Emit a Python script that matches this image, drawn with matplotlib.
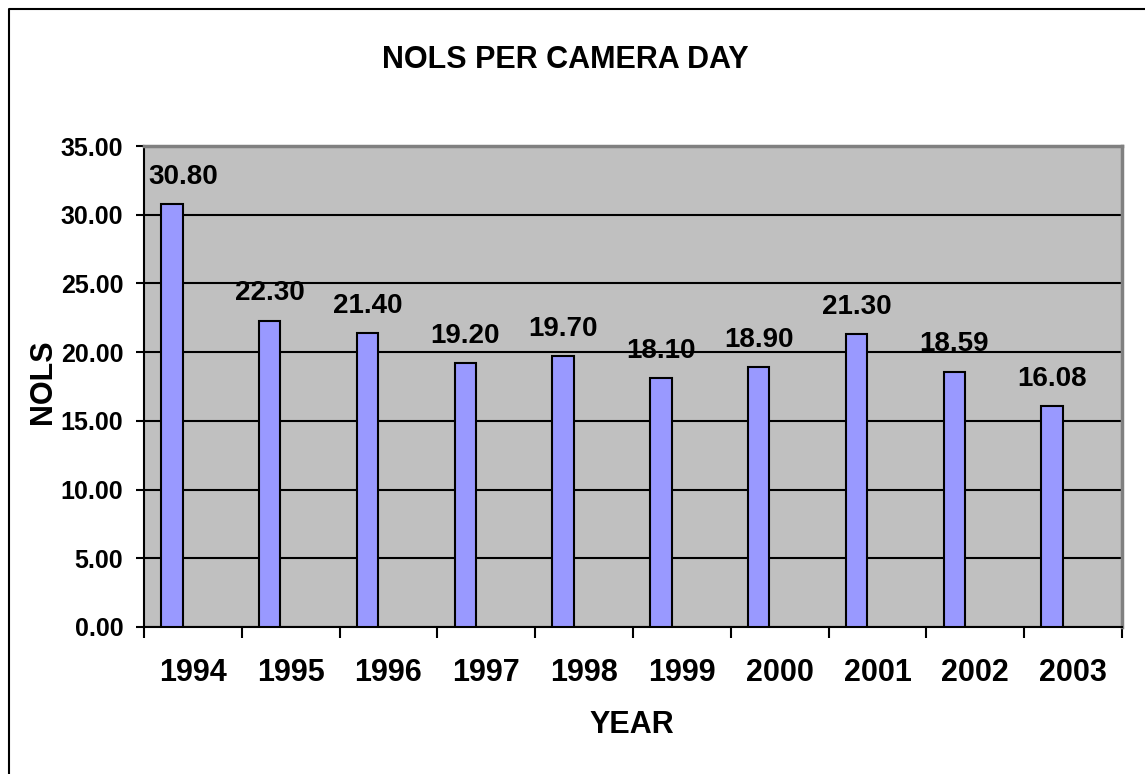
import matplotlib

matplotlib.use("Agg")
import matplotlib.pyplot as plt
from matplotlib.lines import Line2D
from matplotlib.ticker import FixedLocator, FuncFormatter

YEARS = ["1994", "1995", "1996", "1997", "1998", "1999", "2000", "2001", "2002", "2003"]
NOLS = [30.80, 22.30, 21.40, 19.20, 19.70, 18.10, 18.90, 21.30, 18.59, 16.08]
Y_TICKS = [0, 5, 10, 15, 20, 25, 30, 35]

W, H = 1145, 774
BAR_COLOR = "#9999FF"
PLOT_BG = "#C0C0C0"

plt.rcParams["font.family"] = ["Liberation Sans", "DejaVu Sans"]
plt.rcParams["font.weight"] = "bold"

fig = plt.figure(figsize=(W / 100, H / 100), dpi=100)
ax = fig.add_axes([144 / W, 1 - 627 / H, (1122 - 144) / W, (627 - 146) / H])
ax.set_facecolor(PLOT_BG)

# bars sit left of the category centre, like the original spreadsheet chart
lefts = [i + 0.175 for i in range(len(YEARS))]
ax.bar(lefts, NOLS, width=0.22, align="edge", color=BAR_COLOR,
       edgecolor="black", linewidth=1.5, zorder=3)
labels = []
for x, v in zip(lefts, NOLS):
    labels.append(ax.annotate(f"{v:.2f}", (x + 0.11, v), xytext=(0, 14.5),
                              textcoords="offset points", ha="center", va="baseline",
                              fontsize=20, fontweight="bold"))

ax.set_xlim(0, len(YEARS))
ax.set_ylim(0, 35)
ax.set_yticks(Y_TICKS)
ax.yaxis.set_major_formatter(FuncFormatter(lambda v, _: f"{v:.2f}"))
ax.yaxis.grid(True, color="black", linewidth=1.5, zorder=1)
ax.set_axisbelow(True)

ax.xaxis.set_major_locator(FixedLocator(range(len(YEARS) + 1)))
ax.xaxis.set_major_formatter(FuncFormatter(lambda v, _: ""))
ax.xaxis.set_minor_locator(FixedLocator([i + 0.5 for i in range(len(YEARS))]))
ax.set_xticklabels(YEARS, minor=True)
ax.tick_params(axis="x", which="major", length=8, width=1.5, direction="out")
ax.tick_params(axis="x", which="minor", length=0, pad=22, labelsize=22)
ax.tick_params(axis="y", length=6, width=1.5, pad=9, labelsize=18)

for side in ("left", "bottom"):
    ax.spines[side].set_color("black")
    ax.spines[side].set_linewidth(1.5)
for side in ("top", "right"):
    ax.spines[side].set_color("#808080")
    ax.spines[side].set_linewidth(2.5)

fig.text(565 / W, 1 - 60 / H, "NOLS PER CAMERA DAY", ha="center", va="center",
         fontsize=22, fontweight="bold")
fig.text(632 / W, 1 - 725 / H, "YEAR", ha="center", va="center",
         fontsize=22, fontweight="bold")
fig.text(43 / W, 1 - 382 / H, "NOLS", ha="center", va="center", rotation=90,
         fontsize=22, fontweight="bold")

# keep data labels inside the plot area (the first one would spill over the axis)
renderer = fig.canvas.get_renderer()
ax_box = ax.get_window_extent(renderer)
for t in labels:
    bb = t.get_window_extent(renderer)
    shift = max(0, ax_box.x0 + 4 - bb.x0) - max(0, bb.x1 - (ax_box.x1 - 4))
    if shift:
        t.xyann = (t.xyann[0] + shift * 72 / fig.dpi, t.xyann[1])

# chart frame (only the top and left edges are visible in the picture)
bx, by = 8.5 / W, 1 - 8.5 / H
fig.add_artist(Line2D([bx, bx, 1], [0, by, by], transform=fig.transFigure,
                      color="black", linewidth=1.5))

fig.savefig("out.png", dpi=100)
